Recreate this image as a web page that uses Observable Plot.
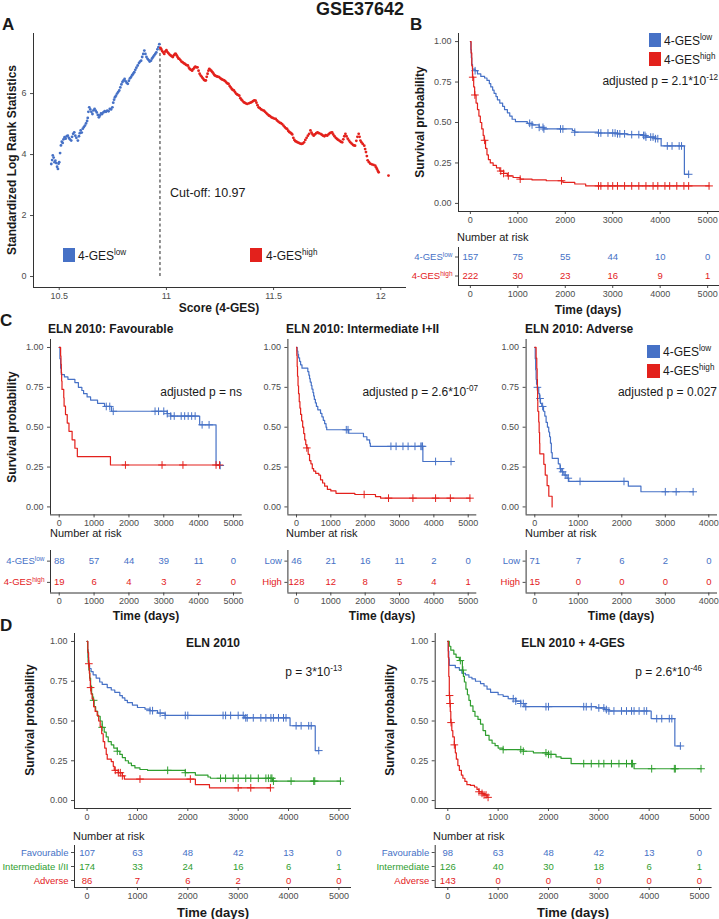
<!DOCTYPE html>
<html><head><meta charset="utf-8">
<script src="https://cdn.jsdelivr.net/npm/d3@7"></script>
<script src="https://cdn.jsdelivr.net/npm/@observablehq/plot@0.6"></script>
<style>
body{margin:0;background:#fff;}
#fig{position:relative;width:719px;height:919px;overflow:hidden;font-family:"Liberation Sans",Arial,sans-serif;background:#fff;}
#fig sup{font-size:0.68em;line-height:0;vertical-align:0.6em;}
</style></head>
<body><div id="fig"></div>
<script>
// ---------- Panel A: maximally selected log-rank scan ----------
const scanCutoff = 10.97;
const scanPoints = [
[10.463,3.69],[10.467,3.82],[10.470,3.97],[10.474,3.90],[10.478,3.75],[10.482,3.80],[10.486,3.72],[10.490,3.60],[10.494,3.53],[10.497,3.70],
[10.500,3.75],[10.504,4.05],[10.508,4.30],[10.512,4.42],[10.516,4.38],[10.520,4.50],[10.525,4.57],[10.530,4.52],[10.535,4.60],[10.540,4.62],
[10.545,4.55],[10.550,4.50],[10.556,4.46],[10.560,4.58],[10.565,4.68],[10.570,4.73],[10.575,4.62],[10.580,4.55],[10.587,4.46],[10.592,4.60],
[10.596,4.70],[10.600,4.79],[10.605,4.72],[10.610,4.85],[10.615,4.90],[10.620,4.95],[10.625,5.02],[10.630,5.10],[10.633,5.20],[10.636,5.40],
[10.640,5.55],[10.645,5.48],[10.650,5.40],[10.655,5.33],[10.660,5.45],[10.665,5.50],[10.670,5.44],[10.675,5.38],[10.680,5.30],[10.685,5.22],
[10.690,5.28],[10.695,5.35],[10.700,5.33],[10.706,5.38],[10.712,5.42],[10.718,5.40],[10.724,5.44],[10.730,5.42],[10.736,5.50],[10.742,5.48],
[10.748,5.55],[10.752,5.70],[10.756,5.80],[10.760,5.88],[10.765,5.93],[10.770,6.00],[10.775,6.05],[10.780,6.10],[10.785,6.20],[10.790,6.30],
[10.795,6.38],[10.800,6.43],[10.805,6.48],[10.810,6.40],[10.815,6.35],[10.820,6.32],[10.825,6.42],[10.830,6.50],[10.835,6.54],[10.840,6.60],
[10.845,6.65],[10.850,6.70],[10.855,6.78],[10.860,6.85],[10.866,6.92],[10.872,7.00],[10.877,7.05],[10.882,7.08],[10.887,7.20],[10.892,7.30],
[10.897,7.41],[10.902,7.30],[10.907,7.20],[10.912,7.14],[10.917,7.10],[10.922,7.05],[10.928,7.08],[10.933,7.15],[10.938,7.20],[10.943,7.25],
[10.948,7.30],[10.953,7.35],[10.958,7.45],[10.963,7.52],[10.967,7.62],
[10.972,7.50],[10.976,7.46],[10.980,7.40],[10.985,7.35],[10.990,7.30],[10.995,7.38],[11.000,7.42],[11.005,7.36],[11.010,7.32],[11.015,7.28],
[11.020,7.25],[11.025,7.22],[11.030,7.20],[11.035,7.26],[11.040,7.30],[11.044,7.30],[11.048,7.25],[11.052,7.20],[11.056,7.15],[11.060,7.14],
[11.065,7.10],[11.070,7.05],[11.075,7.03],[11.080,7.00],[11.085,6.98],[11.090,6.95],[11.095,6.93],[11.100,6.92],[11.105,6.85],[11.110,6.80],
[11.115,6.78],[11.120,6.75],[11.125,6.80],[11.130,6.85],[11.135,6.88],[11.140,6.86],[11.145,6.86],[11.150,6.75],[11.155,6.65],[11.160,6.59],
[11.165,6.55],[11.170,6.50],[11.175,6.45],[11.180,6.43],[11.184,6.43],[11.188,6.55],[11.192,6.65],[11.196,6.75],[11.200,6.81],[11.205,6.78],
[11.210,6.74],[11.215,6.70],[11.220,6.65],[11.225,6.60],[11.230,6.58],[11.236,6.56],[11.241,6.55],[11.246,6.54],[11.252,6.50],[11.258,6.47],
[11.264,6.45],[11.270,6.43],[11.275,6.40],[11.280,6.36],[11.285,6.33],[11.290,6.32],[11.295,6.25],[11.300,6.20],[11.305,6.15],[11.310,6.12],
[11.315,6.10],[11.320,6.05],[11.325,6.00],[11.330,5.97],[11.335,5.95],[11.340,5.93],[11.345,5.85],[11.350,5.80],[11.354,5.77],[11.360,5.72],
[11.365,5.70],[11.370,5.68],[11.377,5.66],[11.385,5.68],[11.392,5.70],[11.398,5.72],[11.404,5.75],[11.410,5.78],[11.416,5.77],[11.420,5.70],
[11.425,5.62],[11.430,5.55],[11.436,5.52],[11.442,5.48],[11.448,5.46],[11.455,5.44],[11.460,5.40],[11.466,5.36],[11.472,5.32],[11.478,5.28],
[11.484,5.26],[11.490,5.22],[11.496,5.20],[11.503,5.18],[11.510,5.17],[11.516,5.12],[11.522,5.08],[11.528,5.05],[11.534,5.03],[11.540,5.00],
[11.546,4.95],[11.552,4.90],[11.558,4.86],[11.563,4.84],[11.568,4.78],[11.573,4.74],[11.578,4.72],[11.583,4.69],[11.587,4.66],[11.592,4.55],
[11.597,4.48],[11.602,4.44],[11.607,4.42],[11.612,4.40],[11.618,4.38],[11.624,4.36],[11.630,4.35],[11.636,4.36],[11.642,4.40],[11.648,4.48],
[11.654,4.55],[11.660,4.62],[11.666,4.68],[11.672,4.79],[11.677,4.72],[11.682,4.66],[11.687,4.62],[11.693,4.66],[11.699,4.70],[11.705,4.73],
[11.711,4.70],[11.719,4.68],[11.725,4.65],[11.731,4.62],[11.737,4.60],[11.743,4.64],[11.750,4.62],[11.756,4.66],[11.762,4.70],[11.768,4.72],
[11.773,4.73],[11.778,4.66],[11.784,4.60],[11.790,4.55],[11.796,4.51],[11.802,4.48],[11.808,4.45],[11.814,4.42],[11.820,4.40],[11.825,4.50],
[11.830,4.60],[11.835,4.68],[11.840,4.60],[11.846,4.52],[11.852,4.46],[11.858,4.40],[11.864,4.36],[11.870,4.32],[11.875,4.30],[11.880,4.29],
[11.886,4.45],[11.891,4.58],[11.897,4.68],[11.901,4.58],[11.905,4.46],[11.910,4.40],[11.916,4.35],[11.923,4.29],[11.927,4.18],[11.931,4.08],
[11.935,3.95],[11.939,3.81],[11.945,3.75],[11.951,3.70],[11.958,3.68],[11.966,3.66],[11.974,3.64],[11.978,3.58],[11.982,3.53],[11.986,3.47],
[11.990,3.42],[12.036,3.31]
];
const scanXTicks = [10.5, 11, 11.5, 12];
const scanYTicks = [0, 2, 4, 6];

// ---------- Kaplan-Meier curves (time in days, survival) ----------
const timeTicks5 = [0,1000,2000,3000,4000,5000];
const timeTicks4 = [0,1000,2000,3000,4000];
const survTicks = [0,0.25,0.5,0.75,1];

// Panel B
const bLowT = [0,10,20,30,45,100,150,220,300,350,400,430,470,500,540,570,620,680,720,780,830,880,950,1200,1300,1450,1550,2150,2200,2700,3100,3300,3650,3700,3900,4020,4510,4600];
const bLowS = [1,0.95,0.9,0.86,0.83,0.82,0.80,0.785,0.775,0.76,0.74,0.72,0.70,0.68,0.66,0.64,0.62,0.60,0.58,0.56,0.54,0.52,0.505,0.495,0.485,0.47,0.46,0.45,0.44,0.435,0.43,0.425,0.42,0.41,0.40,0.355,0.18,0.18];
const bLowC = [100,1250,1300,1450,1530,1550,1900,1950,2200,2700,2750,2900,3000,3050,3100,3150,3250,3400,3550,3650,3680,3700,3800,3850,3900,3950,4150,4250,4400,4450,4600];
const bHighT = [0,15,30,45,70,90,120,150,180,210,240,270,290,320,350,380,420,480,550,620,700,780,900,1050,1300,1600,1950,2200,2430,5030];
const bHighS = [1,0.93,0.85,0.78,0.72,0.67,0.62,0.58,0.54,0.50,0.46,0.42,0.39,0.34,0.30,0.27,0.25,0.235,0.22,0.20,0.185,0.17,0.16,0.15,0.145,0.14,0.13,0.12,0.108,0.108];
const bHighC = [50,95,300,640,700,800,1050,1920,2700,2750,2900,3000,3100,3250,3400,3550,3700,3850,3950,4100,4200,4350,4500,4600,5030];
const bRiskLow = [157,75,55,44,10,0];
const bRiskHigh = [222,30,23,16,9,1];

// Panel C1 Favourable
const c1LowT = [0,20,40,60,150,250,450,550,650,700,800,900,1100,1300,1500,3100,3200,4030,4500,4620];
const c1LowS = [1,0.93,0.87,0.83,0.815,0.80,0.78,0.75,0.73,0.71,0.69,0.67,0.65,0.63,0.60,0.585,0.57,0.515,0.26,0.26];
const c1LowC = [1350,1450,1550,2750,2850,3000,3100,3200,3300,3500,3600,3700,3800,3900,4100,4300,4620];
const c1HighT = [0,40,50,60,70,80,130,140,180,230,280,370,450,520,1470,4600];
const c1HighS = [1,0.947,0.895,0.842,0.789,0.737,0.684,0.632,0.579,0.526,0.474,0.421,0.368,0.316,0.263,0.263];
const c1HighC = [1900,2950,3550,4500,4600];
const c1RiskLow = [88,57,44,39,11,0];
const c1RiskHigh = [19,6,4,3,2,0];

// Panel C2 Intermediate I+II
const c2LowT = [0,20,40,60,90,120,160,330,360,380,400,430,450,480,500,520,550,580,620,700,740,780,820,860,880,1520,1950,2050,2130,2150,3680,4530];
const c2LowS = [1,0.978,0.957,0.935,0.913,0.891,0.870,0.848,0.826,0.804,0.783,0.761,0.739,0.717,0.696,0.674,0.652,0.630,0.609,0.587,0.565,0.543,0.522,0.50,0.484,0.462,0.44,0.42,0.40,0.38,0.285,0.285];
const c2LowC = [1450,1500,2750,2900,3100,3250,3450,3620,3650,3670,4050,4500];
const c2HighT = [0,10,20,30,45,60,80,100,120,150,180,210,240,270,300,340,380,420,460,500,560,650,700,760,820,900,1000,1150,1700,2300,2450,5050];
const c2HighS = [1,0.95,0.88,0.82,0.76,0.71,0.66,0.62,0.58,0.54,0.50,0.46,0.42,0.39,0.37,0.33,0.29,0.27,0.24,0.225,0.21,0.20,0.17,0.15,0.13,0.11,0.10,0.085,0.078,0.065,0.055,0.055];
const c2HighC = [300,1970,2680,3390,4050,4480,5050];
const c2RiskLow = [46,21,16,11,2,0];
const c2RiskHigh = [128,12,8,5,4,1];

// Panel C3 Adverse
const c3LowT = [0,10,20,30,40,60,90,110,130,160,200,230,260,290,320,340,360,380,400,540,580,620,670,740,780,2150,2440,3640];
const c3LowS = [1,0.93,0.86,0.80,0.77,0.75,0.71,0.68,0.65,0.63,0.60,0.57,0.53,0.50,0.47,0.44,0.40,0.34,0.305,0.27,0.24,0.22,0.20,0.18,0.16,0.13,0.095,0.095];
const c3LowC = [60,120,180,590,640,700,770,1040,2050,3000,3250,3640];
const c3HighT = [0,30,45,54,60,65,69,90,100,110,115,207,240,283,322,398];
const c3HighS = [1,0.933,0.867,0.80,0.733,0.667,0.60,0.533,0.467,0.40,0.333,0.267,0.20,0.133,0.067,0];
const c3HighC = [];
const c3RiskLow = [71,7,6,2,0];
const c3RiskHigh = [15,0,0,0,0];

// Panel D1 ELN 2010
const d1FavT = [0,10,20,30,50,80,120,180,250,300,400,480,550,650,700,750,800,900,1000,1150,1250,1400,1550,3120,4030,4530,4600];
const d1FavS = [1,0.95,0.90,0.85,0.83,0.81,0.79,0.77,0.745,0.73,0.71,0.695,0.68,0.66,0.645,0.63,0.615,0.60,0.585,0.575,0.565,0.55,0.535,0.52,0.47,0.314,0.314];
const d1FavC = [1250,1300,1450,1550,1950,2000,2700,2750,2850,3000,3100,3150,3180,3300,3450,3550,3650,3700,3800,3900,3950,4150,4250,4400,4450,4600];
const d1IntT = [0,10,20,35,50,70,90,110,140,170,210,260,300,340,380,420,480,530,600,650,700,760,820,880,950,1050,1200,1950,2150,2400,2450,3680,5030];
const d1IntS = [1,0.94,0.87,0.82,0.77,0.72,0.67,0.63,0.59,0.56,0.53,0.50,0.46,0.43,0.40,0.37,0.35,0.33,0.31,0.29,0.27,0.25,0.235,0.22,0.205,0.195,0.19,0.175,0.16,0.148,0.14,0.122,0.122];
const d1IntC = [130,300,600,1600,1950,2650,2750,2900,3000,3150,3250,3400,3550,3600,3650,3670,3700,4050,4500,4520,5030];
const d1AdvT = [0,15,30,45,55,65,80,100,130,160,200,230,260,290,320,350,380,400,480,520,540,620,700,740,2150,2430,3640];
const d1AdvS = [1,0.93,0.86,0.80,0.755,0.71,0.67,0.64,0.59,0.56,0.535,0.50,0.465,0.42,0.37,0.33,0.29,0.26,0.245,0.215,0.19,0.175,0.155,0.135,0.10,0.08,0.08];
const d1AdvC = [35,70,560,620,660,700,1050,2050,3000,3250,3640];
const d1RiskFav = [107,63,48,42,13,0];
const d1RiskInt = [174,33,24,16,6,1];
const d1RiskAdv = [86,7,6,2,0,0];

// Panel D2 ELN 2010 + 4-GES
const d2FavT = [0,10,20,30,150,230,280,350,420,480,550,650,720,780,850,1000,1100,1200,1350,1450,1530,2950,3120,3200,4040,4510,4620];
const d2FavS = [1,0.94,0.89,0.85,0.835,0.82,0.80,0.79,0.775,0.765,0.75,0.735,0.72,0.70,0.68,0.665,0.655,0.64,0.625,0.61,0.59,0.582,0.572,0.563,0.515,0.343,0.343];
const d2FavC = [1300,1350,1450,1500,1550,1950,2000,2700,2750,2850,3000,3100,3150,3200,3300,3450,3550,3650,3700,3800,3900,3950,4150,4250,4400,4450,4620];
const d2IntT = [0,30,60,120,165,230,290,310,330,360,390,420,450,500,540,600,650,700,750,820,880,940,1000,1100,1500,1700,2000,2150,2250,2450,3700,5030];
const d2IntS = [1,0.97,0.945,0.92,0.90,0.88,0.82,0.78,0.745,0.70,0.665,0.63,0.595,0.56,0.53,0.51,0.48,0.44,0.41,0.38,0.36,0.345,0.33,0.32,0.31,0.30,0.29,0.275,0.265,0.232,0.20,0.20];
const d2IntC = [250,300,1100,1450,1500,1950,2000,2050,2700,2850,3000,3100,3250,3400,3550,3650,3670,4050,4500,4520,5030];
const d2AdvT = [0,10,20,30,40,50,60,80,100,130,150,170,200,230,270,300,340,380,450,530,580,620,680,720,780,800];
const d2AdvS = [1,0.90,0.78,0.66,0.61,0.56,0.49,0.44,0.40,0.35,0.30,0.26,0.22,0.19,0.16,0.14,0.12,0.10,0.095,0.085,0.07,0.055,0.045,0.035,0.02,0.02];
const d2AdvC = [35,45,65,130,620,680,720,760,800];
const d2RiskFav = [98,63,48,42,13,0];
const d2RiskInt = [126,40,30,18,6,1];
const d2RiskAdv = [143,0,0,0,0,0];

// ---------- styling ----------
const BLUE = "#4671c6", RED = "#e3211c", GREEN = "#2f9e2f";
const AXIS = "#333333", TICK = "#4d4d4d";
const FONT = '"Liberation Sans", Arial, sans-serif';
const fig = document.getElementById("fig");

function place(el, left, top) {
  el.style.position = "absolute"; el.style.left = left + "px"; el.style.top = top + "px";
  fig.appendChild(el); return el;
}
function txt(html, x, y, o = {}) {
  const d = document.createElement("div");
  d.innerHTML = html;
  const a = o.anchor || "start";
  const tx = a === "start" ? "0" : a === "end" ? "-100%" : "-50%";
  d.style.cssText = `position:absolute;left:${x}px;top:${y}px;white-space:nowrap;line-height:0.85;` +
    `font-size:${o.size || 12}px;font-weight:${o.weight || "normal"};color:${o.color || "#1a1a1a"};` +
    `transform:translate(${tx},-50%)${o.rotate ? " rotate(-90deg)" : ""};`;
  fig.appendChild(d);
}
function sq(x, y, w, h, c) {
  const d = document.createElement("div");
  d.style.cssText = `position:absolute;left:${x}px;top:${y}px;width:${w}px;height:${h}px;background:${c};`;
  fig.appendChild(d);
}
function stepAt(T, S, t) { let s = S[0]; for (let i = 0; i < T.length; i++) if (T[i] <= t) s = S[i]; return s; }
const svgStyle = {background: "transparent", overflow: "visible", fontFamily: FONT, fontSize: "9px", color: TICK};

function kmMain(p, curves) {
  const top = p.T - 8, height = (p.B + 22) - top;
  const svg = Plot.plot({
    width: p.w, height,
    marginLeft: p.L - p.left, marginRight: p.left + p.w - p.R, marginTop: 8, marginBottom: 22,
    style: svgStyle,
    x: {domain: p.xDomain, ticks: p.xTicks, tickSize: 3, tickPadding: 2, tickFormat: d => String(d), label: null},
    y: {domain: [-0.05, 1.05], ticks: survTicks, tickFormat: d3.format(".2f"), tickSize: 3, tickPadding: 4, label: null},
    marks: [
      Plot.ruleX([p.xDomain[0]], {stroke: AXIS}),
      Plot.ruleY([-0.05], {stroke: AXIS}),
      ...curves.flatMap(c => [
        Plot.line(d3.zip(c.T, c.S), {x: d => d[0], y: d => d[1], curve: "step-after", stroke: c.color, strokeWidth: 1.2}),
        Plot.dot(c.C.map(t => [t, stepAt(c.T, c.S, t)]), {x: d => d[0], y: d => d[1], symbol: "plus", r: 2.6, stroke: c.color, strokeWidth: 1})
      ])
    ]
  });
  place(svg, p.left, top);
}
function supLabel(s) {
  const i = s.indexOf("^");
  return i < 0 ? s : s.slice(0, i) + `<tspan dy="-3.5" font-size="6.5">${s.slice(i + 1)}</tspan>`;
}
function kmRisk(p, rows) {
  const n = rows.length;
  const top = p.rT - 6, height = (p.rB + 24) - top;
  const svg = Plot.plot({
    width: p.w, height,
    marginLeft: p.L - p.left, marginRight: p.left + p.w - p.R, marginTop: 6, marginBottom: 24,
    style: svgStyle,
    x: {domain: p.xDomain, ticks: p.xTicks, tickSize: 3, tickPadding: 2, tickFormat: d => String(d), label: null},
    y: {domain: [n - 0.5, -0.5], ticks: d3.range(n), tickFormat: i => rows[i].label, tickSize: 3, tickPadding: 3, label: null},
    marks: [
      Plot.ruleX([p.xDomain[0]], {stroke: AXIS}),
      Plot.ruleY([n - 0.5], {stroke: AXIS}),
      ...rows.map((r, i) => Plot.text(r.counts.map((c, j) => [p.xTicks[j], c]),
        {x: d => d[0], y: () => i, text: d => String(d[1]), fill: r.color, fontSize: 9.5}))
    ]
  });
  svg.querySelectorAll("text").forEach(t => {
    const r = rows.find(r => r.label === t.textContent);
    if (r) { t.setAttribute("fill", r.color); t.setAttribute("font-size", "9.5"); t.innerHTML = supLabel(r.label); }
  });
  place(svg, p.left, top);
}

// ---------- Panel A ----------
const svgA = Plot.plot({
  width: 410, height: 284, marginLeft: 33, marginRight: 4, marginTop: 8, marginBottom: 22,
  style: svgStyle,
  x: {domain: [10.38, 12.12], ticks: scanXTicks, tickSize: 3, tickPadding: 2, tickFormat: d => String(d), label: null},
  y: {domain: [-0.36, 7.97], ticks: scanYTicks, tickSize: 3, tickPadding: 4, label: null},
  marks: [
    Plot.ruleX([10.38], {stroke: AXIS}),
    Plot.ruleY([-0.36], {stroke: AXIS}),
    Plot.ruleX([scanCutoff], {y1: 0, y2: d3.max(scanPoints, d => d[1]), stroke: "#222", strokeDasharray: "3,2.5"}),
    Plot.dot(scanPoints.filter(d => d[0] < scanCutoff), {x: d => d[0], y: d => d[1], r: 1.4, fill: BLUE}),
    Plot.dot(scanPoints.filter(d => d[0] >= scanCutoff), {x: d => d[0], y: d => d[1], r: 1.4, fill: RED})
  ]
});
place(svgA, 0, 25);

// ---------- KM panels ----------
const geomB  = {left: 360, w: 359, L: 458,   R: 719,   T: 33,    B: 211,   rT: 247, rB: 285,   xDomain: [-250, 5250], xTicks: timeTicks5};
const geomC1 = {left: 0,   w: 245, L: 50,    R: 241.7, T: 339.3, B: 514.7, rT: 550, rB: 592.5, xDomain: [-250, 5250], xTicks: timeTicks5};
const geomC2 = {left: 245, w: 240, L: 287.4, R: 476.3, T: 339.3, B: 514.7, rT: 550, rB: 592.5, xDomain: [-250, 5250], xTicks: timeTicks5};
const geomC3 = {left: 485, w: 234, L: 525.6, R: 717,   T: 339.3, B: 514.7, rT: 550, rB: 592.5, xDomain: [-200, 4200], xTicks: timeTicks4};
const geomD1 = {left: 0,   w: 360, L: 74,    R: 351,   T: 633,   B: 808,   rT: 845, rB: 887,   xDomain: [-250, 5250], xTicks: timeTicks5};
const geomD2 = {left: 360, w: 359, L: 434.7, R: 711.6, T: 633,   B: 808,   rT: 845, rB: 887,   xDomain: [-250, 5250], xTicks: timeTicks5};

kmMain(geomB, [{T: bLowT, S: bLowS, C: bLowC, color: BLUE}, {T: bHighT, S: bHighS, C: bHighC, color: RED}]);
kmRisk(geomB, [{label: "4-GES^low", counts: bRiskLow, color: BLUE}, {label: "4-GES^high", counts: bRiskHigh, color: RED}]);

kmMain(geomC1, [{T: c1LowT, S: c1LowS, C: c1LowC, color: BLUE}, {T: c1HighT, S: c1HighS, C: c1HighC, color: RED}]);
kmRisk(geomC1, [{label: "4-GES^low", counts: c1RiskLow, color: BLUE}, {label: "4-GES^high", counts: c1RiskHigh, color: RED}]);
kmMain(geomC2, [{T: c2LowT, S: c2LowS, C: c2LowC, color: BLUE}, {T: c2HighT, S: c2HighS, C: c2HighC, color: RED}]);
kmRisk(geomC2, [{label: "Low", counts: c2RiskLow, color: BLUE}, {label: "High", counts: c2RiskHigh, color: RED}]);
kmMain(geomC3, [{T: c3LowT, S: c3LowS, C: c3LowC, color: BLUE}, {T: c3HighT, S: c3HighS, C: c3HighC, color: RED}]);
kmRisk(geomC3, [{label: "Low", counts: c3RiskLow, color: BLUE}, {label: "High", counts: c3RiskHigh, color: RED}]);

kmMain(geomD1, [{T: d1FavT, S: d1FavS, C: d1FavC, color: BLUE}, {T: d1IntT, S: d1IntS, C: d1IntC, color: GREEN}, {T: d1AdvT, S: d1AdvS, C: d1AdvC, color: RED}]);
kmRisk(geomD1, [{label: "Favourable", counts: d1RiskFav, color: BLUE}, {label: "Intermediate I/II", counts: d1RiskInt, color: GREEN}, {label: "Adverse", counts: d1RiskAdv, color: RED}]);
kmMain(geomD2, [{T: d2FavT, S: d2FavS, C: d2FavC, color: BLUE}, {T: d2IntT, S: d2IntS, C: d2IntC, color: GREEN}, {T: d2AdvT, S: d2AdvS, C: d2AdvC, color: RED}]);
kmRisk(geomD2, [{label: "Favourable", counts: d2RiskFav, color: BLUE}, {label: "Intermediate", counts: d2RiskInt, color: GREEN}, {label: "Adverse", counts: d2RiskAdv, color: RED}]);

// ---------- text ----------
txt("GSE37642", 360, 10, {anchor: "middle", size: 18, weight: "bold"});
txt("A", 2, 25, {size: 17, weight: "bold"});
txt("B", 410, 25, {size: 17, weight: "bold"});
txt("C", 0, 321, {size: 17, weight: "bold"});
txt("D", 0, 626, {size: 17, weight: "bold"});

// A
txt("Standardized Log Rank Statistics", 12, 160, {anchor: "middle", rotate: true, weight: "bold"});
txt("Score (4-GES)", 219, 308, {anchor: "middle", weight: "bold"});
txt("Cut-off: 10.97", 170, 193, {size: 12.5});
sq(63, 248, 12, 14, BLUE); txt("4-GES<sup>low</sup>", 78, 256, {size: 12});
sq(250, 248, 12, 14, RED); txt("4-GES<sup>high</sup>", 266, 256, {size: 12});

// B
txt("Survival probability", 420, 122, {anchor: "middle", rotate: true, weight: "bold"});
sq(649, 33, 12, 14, BLUE); txt("4-GES<sup>low</sup>", 664, 41, {size: 12});
sq(649, 52, 12, 14, RED); txt("4-GES<sup>high</sup>", 664, 60, {size: 12});
txt("adjusted p = 2.1*10<sup>-12</sup>", 718, 81, {anchor: "end", size: 12});
txt("Number at risk", 457, 238, {size: 11});
txt("Time (days)", 588, 310, {anchor: "middle", weight: "bold"});

// C
txt("ELN 2010: Favourable", 48, 329, {weight: "bold"});
txt("ELN 2010: Intermediate I+II", 286, 329, {weight: "bold"});
txt("ELN 2010: Adverse", 525, 329, {weight: "bold"});
txt("Survival probability", 12, 427, {anchor: "middle", rotate: true, weight: "bold"});
txt("adjusted p = ns", 242, 392, {anchor: "end", size: 12});
txt("adjusted p = 2.6*10<sup>-07</sup>", 478, 392, {anchor: "end", size: 12});
txt("adjusted p = 0.027", 717, 392, {anchor: "end", size: 12});
sq(647, 345, 13, 13, BLUE); txt("4-GES<sup>low</sup>", 663, 352, {size: 12});
sq(647, 364, 13, 14, RED); txt("4-GES<sup>high</sup>", 663, 371, {size: 12});
txt("Number at risk", 50, 534, {size: 11});
txt("Number at risk", 286, 534, {size: 11});
txt("Number at risk", 525, 534, {size: 11});
txt("Time (days)", 146, 616, {anchor: "middle", weight: "bold"});
txt("Time (days)", 382, 616, {anchor: "middle", weight: "bold"});
txt("Time (days)", 621, 616, {anchor: "middle", weight: "bold"});

// D
txt("ELN 2010", 213, 643, {anchor: "middle", weight: "bold"});
txt("ELN 2010 + 4-GES", 573, 643, {anchor: "middle", weight: "bold"});
txt("p = 3*10<sup>-13</sup>", 342, 672, {anchor: "end", size: 12});
txt("p = 2.6*10<sup>-46</sup>", 702, 672, {anchor: "end", size: 12});
txt("Survival probability", 30, 720, {anchor: "middle", rotate: true, weight: "bold"});
txt("Survival probability", 390, 720, {anchor: "middle", rotate: true, weight: "bold"});
txt("Number at risk", 73, 837, {size: 11});
txt("Number at risk", 433, 837, {size: 11});
txt("Time (days)", 213, 913, {anchor: "middle", size: 13, weight: "bold"});
txt("Time (days)", 573, 913, {anchor: "middle", size: 13, weight: "bold"});
</script>
</body></html>
